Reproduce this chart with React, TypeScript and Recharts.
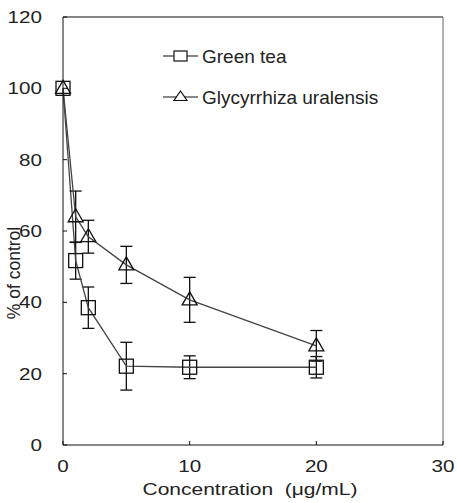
import {
  ErrorBar,
  Label,
  Line,
  LineChart,
  ReferenceLine,
  XAxis,
  YAxis
} from "recharts";

const concentrations = [0, 1, 2, 5, 10, 20];
const greenTea = [100, 51.7, 38.5, 22.1, 21.8, 21.8];
const greenTeaErr = [0, 5.2, 5.8, 6.7, 3.2, 3];
const glycyrrhiza = [100, 64, 58.4, 50.5, 40.7, 27.8];
const glycyrrhizaErr = [0, 7.2, 4.6, 5.2, 6.3, 4.3];
const xTicks = [0, 10, 20, 30];
const yTicks = [0, 20, 40, 60, 80, 100, 120];

const data = concentrations.map((c, i) => ({
  conc: c,
  green: greenTea[i],
  greenErr: greenTeaErr[i],
  glyc: glycyrrhiza[i],
  glycErr: glycyrrhizaErr[i]
}));

const font = "'Liberation Sans', Arial, sans-serif";
const ink = "#111";
const textColor = "#222";
const lineColor = "#444";
// axis text in the figure is a little wider than normal Arial
const stretch = 1.25;

function XTick(props: any) {
  const { x, y, payload } = props;
  return (
    <text
      transform={`translate(${x},${y}) scale(${stretch},1)`}
      textAnchor="middle"
      dy="0.71em"
      fontSize={16.5}
      fontFamily={font}
      fill={textColor}
    >
      {payload.value}
    </text>
  );
}

function YTick(props: any) {
  const { x, y, payload } = props;
  return (
    <text
      transform={`translate(${x},${y}) scale(${stretch},1)`}
      textAnchor="end"
      dy="0.36em"
      fontSize={16.5}
      fontFamily={font}
      fill={textColor}
    >
      {payload.value}
    </text>
  );
}

function SquareDot(props: any) {
  const { cx, cy, index } = props;
  if (cx == null || cy == null) return null;
  return (
    <rect key={`sq-${index}`} x={cx - 7} y={cy - 7} width={14} height={14} fill="none" stroke={ink} strokeWidth={1.3} />
  );
}

function TriangleDot(props: any) {
  const { cx, cy, index } = props;
  if (cx == null || cy == null) return null;
  const pts = `${cx},${cy - 8} ${cx - 7.5},${cy + 5} ${cx + 7.5},${cy + 5}`;
  return <polygon key={`tri-${index}`} points={pts} fill="none" stroke={ink} strokeWidth={1.3} />;
}

function LegendBox() {
  const rows = [
    { label: "Green tea", shape: "square" },
    { label: "Glycyrrhiza uralensis", shape: "triangle" }
  ];
  return (
    <svg width={240} height={70} style={{ overflow: "visible", display: "block" }}>
      {rows.map((r, i) => {
        const y = 10 + i * 41;
        return (
          <g key={r.label}>
            <line x1={0} x2={35} y1={y} y2={y} stroke={ink} strokeWidth={1.2} />
            {r.shape === "square" ? (
              <rect x={11} y={y - 5} width={13} height={10} fill="#fff" stroke={ink} strokeWidth={1.2} />
            ) : (
              <polygon points={`17.5,${y - 6} 11,${y + 3.5} 24,${y + 3.5}`} fill="#fff" stroke={ink} strokeWidth={1.2} />
            )}
            <text x={39} y={y + 6.5} fontSize={19} fontFamily={font} fill={textColor}>
              {r.label}
            </text>
          </g>
        );
      })}
    </svg>
  );
}

export default function App() {
  return (
    <div style={{ position: "absolute", left: 0, top: 0, width: 457, height: 503, background: "#fff" }}>
      <LineChart width={457} height={503} data={data} margin={{ top: 17, right: 14, bottom: 0, left: 0 }}>
        <XAxis
          dataKey="conc"
          type="number"
          domain={[0, 30]}
          ticks={xTicks}
          height={58}
          stroke={ink}
          tickSize={-4}
          tickMargin={19}
          tick={XTick}
        >
          <Label
            content={() => (
              <text
                transform={`translate(250,495) scale(${stretch},1)`}
                textAnchor="middle"
                fontSize={16.8}
                fontFamily={font}
                fill={textColor}
                style={{ whiteSpace: "pre" }}
              >
                {"Concentration  (μg/mL)"}
              </text>
            )}
          />
        </XAxis>
        <YAxis
          type="number"
          domain={[0, 120]}
          ticks={yTicks}
          width={63}
          stroke={ink}
          tickSize={-4}
          tickMargin={25}
          tick={YTick}
        >
          <Label
            content={() => (
              <text
                x={20}
                y={273}
                transform="rotate(-90, 20, 273)"
                textAnchor="middle"
                fontSize={17.5}
                fontFamily={font}
                fill={textColor}
              >
                % of control
              </text>
            )}
          />
        </YAxis>
        <ReferenceLine y={120} stroke={ink} strokeWidth={1} />
        <ReferenceLine x={30} stroke="#666" strokeWidth={1} />
        <Line
          dataKey="green"
          stroke={lineColor}
          strokeWidth={1.3}
          isAnimationActive={false}
          dot={SquareDot}
          activeDot={false}
        >
          <ErrorBar dataKey="greenErr" direction="y" width={6} stroke={ink} strokeWidth={1.3} />
        </Line>
        <Line
          dataKey="glyc"
          stroke={lineColor}
          strokeWidth={1.3}
          isAnimationActive={false}
          dot={TriangleDot}
          activeDot={false}
        >
          <ErrorBar dataKey="glycErr" direction="y" width={6} stroke={ink} strokeWidth={1.3} />
        </Line>
      </LineChart>
      <div style={{ position: "absolute", left: 163, top: 46 }}>
        <LegendBox />
      </div>
    </div>
  );
}
